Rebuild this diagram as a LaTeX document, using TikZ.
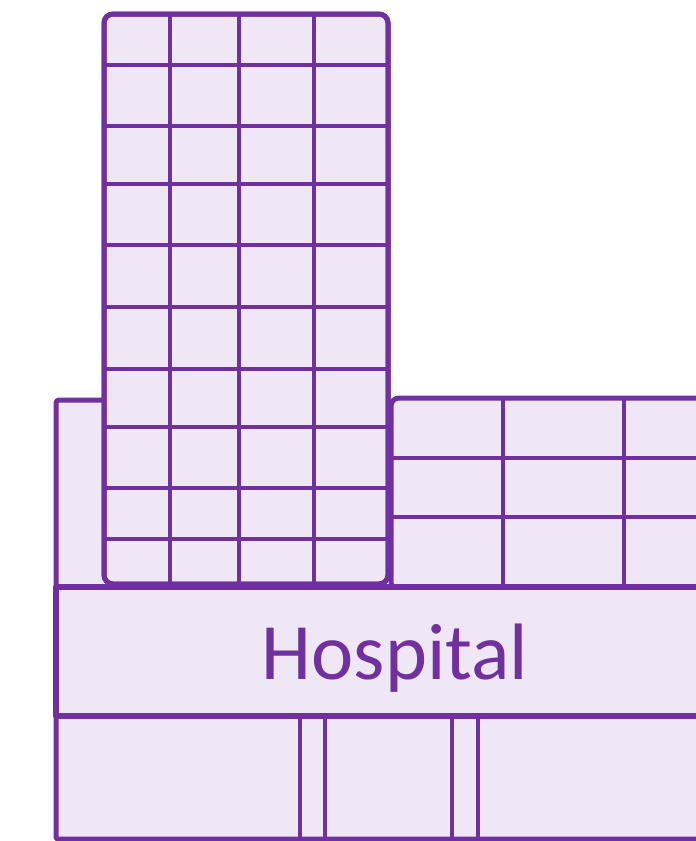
\documentclass[tikz,border=0pt]{standalone}
\usepackage{fontspec}
\setmainfont{Carlito}
\definecolor{hpurple}{HTML}{7030A0}
\definecolor{hfill}{HTML}{EFE7F5}
\begin{document}
\begin{tikzpicture}[x=1pt,y=-1pt,
  outer/.style={draw=hpurple,fill=hfill,line width=5pt,line join=round},
  inner/.style={draw=hpurple,line width=4pt},
  label/.style={text=hpurple,font=\fontsize{80}{96}\selectfont,inner sep=0pt,anchor=base}]
\useasboundingbox (0,0) rectangle (696,841);
\begin{scope}
\clip (0,0) rectangle (696,841);
% left block
\path[outer,rounded corners=3pt] (56,590) -- (56,400) -- (110,400) -- (110,590);
% right block
\path[outer,rounded corners=8pt] (391,590) -- (391,398) -- (720,398) -- (720,590) -- cycle;
\foreach \x in {503,624} \draw[inner] (\x,398) -- (\x,587);
\foreach \y in {458,517} \draw[inner] (391,\y) -- (720,\y);
% tower
\path[outer,rounded corners=9pt] (104,14) rectangle (388,584);
\foreach \x in {170,239,314} \draw[inner] (\x,14) -- (\x,584);
\foreach \y in {65,126,184,245,307,369,427,488,539} \draw[inner] (104,\y) -- (388,\y);
\draw[draw=hpurple,line width=5pt,rounded corners=9pt] (104,14) rectangle (388,584);
% bottom block
\path[outer,rounded corners=2pt] (56,716) rectangle (720,839);
\foreach \x in {300,325,452,478} \draw[inner] (\x,716) -- (\x,839);
% hospital band
\path[outer,line width=5.5pt] (56,587) rectangle (720,716);
\node[label] (hosp) at (395,679) {Hospital};
\end{scope}
\end{tikzpicture}
\end{document}
